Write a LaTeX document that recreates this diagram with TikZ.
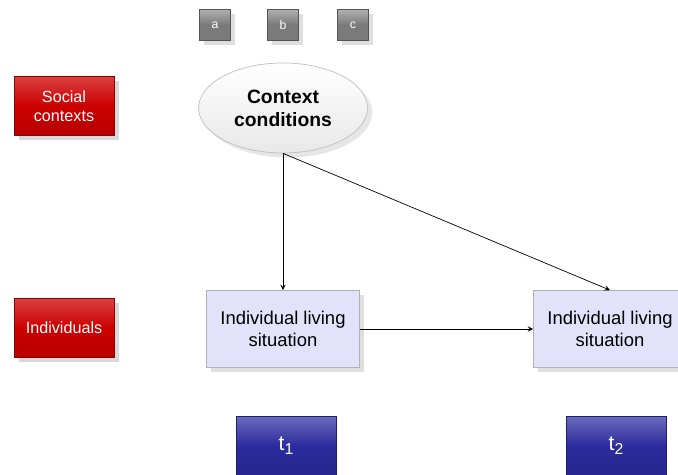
\documentclass[tikz,border=0pt]{standalone}
\usepackage{fontspec}
\setmainfont{Liberation Sans}
\usetikzlibrary{shapes.geometric,shadows}

\definecolor{boxred}{HTML}{CC0000}
\definecolor{boxblue}{HTML}{2B2B9E}
\definecolor{boxlav}{HTML}{E2E2FA}
\definecolor{boxgray}{HTML}{7A7A7A}

\newcommand{\tsub}[1]{t\raisebox{-0.35ex}{\fontsize{9}{9}\selectfont #1}}

\tikzset{
  levelbox/.style={draw=boxred!70!black, top color=boxred!75!white, bottom color=boxred!90!black,
    middle color=boxred, text=white, minimum width=2cm, minimum height=1.18cm,
    align=center, font=\fontsize{9.2}{11}\selectfont, drop shadow={opacity=0.3}},
  timebox/.style={draw=boxblue!70!black, top color=boxblue!70!white, bottom color=boxblue!90!black,
    middle color=boxblue, text=white, minimum width=2cm, minimum height=1.18cm,
    font=\fontsize{12}{14}\selectfont},
  keybox/.style={draw=boxgray!70!black, top color=boxgray!60!white, bottom color=boxgray,
    middle color=boxgray, text=white, minimum width=0.62cm, minimum height=0.62cm,
    font=\fontsize{7}{8}\selectfont, drop shadow={opacity=0.25}},
  livebox/.style={draw=gray!60, fill=boxlav, minimum width=3.06cm, minimum height=1.54cm,
    align=center, font=\fontsize{10.5}{12.5}\selectfont, drop shadow={opacity=0.25}},
  contextell/.style={ellipse, draw=gray!50, top color=white, bottom color=gray!18,
    minimum width=3.38cm, minimum height=1.8cm, align=center,
    font=\fontsize{11}{13}\selectfont\bfseries, drop shadow={opacity=0.2}},
  link/.style={->, >=stealth, thin}
}

\begin{document}
\begin{tikzpicture}[x=0.02cm, y=-0.02cm]
  \useasboundingbox (0,0) rectangle (678,475);

  % key buttons
  \node[keybox] (a) at (215,25) {a};
  \node[keybox] (b) at (283,25) {b};
  \node[keybox] (c) at (353,25) {c};

  % levels
  \node[levelbox] (social) at (64,106) {Social\\contexts};
  \node[levelbox] (indiv) at (64,328) {Individuals};

  % model
  \node[contextell] (context) at (283,108) {Context\\conditions};
  \node[livebox] (live1) at (283,329) {Individual living\\situation};
  \node[livebox] (live2) at (610,329) {Individual living\\situation};

  \draw[link] (context.south) -- (live1.north);
  \draw[link] (context.south) -- (live2.north);
  \draw[link] (live1.east) -- (live2.west);

  % time points
  \node[timebox] (t1) at (286,446) {\tsub{1}};
  \node[timebox] (t2) at (616,446) {\tsub{2}};
\end{tikzpicture}
\end{document}
